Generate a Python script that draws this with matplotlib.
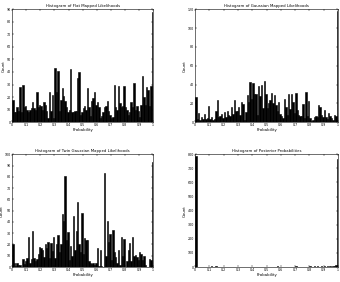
import numpy as np
import matplotlib
matplotlib.use('Agg')
import matplotlib.pyplot as plt

# bar counts per bin (100 bins on [0, 1])
flat_counts = [18, 8, 8, 12, 9, 28, 8, 30, 12, 13,
               10, 8, 10, 11, 16, 11, 10, 24, 12, 14,
               13, 10, 16, 14, 9, 3, 24, 9, 22, 3,
               43, 24, 41, 9, 18, 27, 21, 17, 12, 8,
               10, 42, 8, 8, 9, 9, 35, 40, 6, 8,
               11, 13, 10, 27, 12, 5, 17, 19, 24, 14,
               16, 12, 3, 5, 8, 12, 13, 17, 9, 6,
               3, 4, 30, 12, 10, 29, 15, 12, 13, 29,
               12, 10, 6, 8, 16, 12, 31, 10, 13, 9,
               4, 14, 37, 20, 14, 28, 26, 13, 29, 88]

gauss_counts = [27, 3, 10, 2, 5, 3, 9, 3, 4, 17,
                3, 5, 2, 3, 12, 23, 5, 6, 9, 4,
                11, 5, 12, 8, 7, 16, 9, 24, 12, 12,
                16, 8, 21, 19, 2, 11, 29, 21, 43, 25,
                42, 30, 30, 8, 38, 28, 40, 15, 44, 30,
                15, 20, 23, 31, 20, 29, 18, 12, 21, 9,
                6, 4, 25, 16, 8, 30, 14, 30, 21, 10,
                31, 13, 8, 6, 7, 19, 4, 32, 7, 22,
                4, 1, 2, 5, 7, 5, 18, 16, 8, 5,
                13, 5, 3, 10, 7, 4, 2, 8, 6, 118]

twin_counts = [20, 4, 1, 4, 2, 2, 0, 7, 3, 5,
               8, 27, 4, 7, 32, 8, 5, 7, 12, 18,
               17, 15, 9, 20, 17, 22, 8, 21, 14, 27,
               8, 20, 28, 13, 20, 47, 41, 81, 24, 31,
               6, 19, 10, 45, 15, 32, 58, 20, 13, 48,
               12, 26, 24, 24, 5, 4, 3, 4, 2, 4,
               17, 1, 15, 1, 0, 83, 10, 41, 22, 29,
               6, 33, 13, 9, 4, 15, 2, 27, 10, 25,
               0, 5, 15, 21, 5, 27, 10, 11, 9, 6,
               13, 12, 6, 10, 2, 0, 0, 7, 6, 93]

post_counts = [790, 0, 0, 0, 0, 0, 2, 0, 0, 0,
               0, 4, 0, 0, 5, 0, 3, 0, 0, 0,
               0, 0, 0, 0, 0, 0, 0, 0, 0, 0,
               0, 0, 0, 0, 0, 0, 0, 0, 0, 0,
               0, 0, 0, 0, 0, 0, 0, 0, 0, 0,
               0, 0, 0, 0, 0, 0, 0, 6, 3, 0,
               0, 0, 0, 0, 0, 0, 0, 0, 0, 0,
               4, 0, 0, 0, 0, 0, 0, 0, 3, 0,
               7, 0, 0, 5, 0, 4, 0, 0, 5, 0,
               6, 0, 5, 0, 5, 0, 8, 10, 15, 765]

titles = ['Histogram of Flat Mapped Likelihoods',
          'Histogram of Gaussian Mapped Likelihoods',
          'Histogram of Twin Gaussian Mapped Likelihoods',
          'Histogram of Posterior Probabilities']
ylims = [90, 120, 100, 800]
ysteps = [10, 20, 10, 100]
xticks = [0, 0.1, 0.2, 0.3, 0.4, 0.5, 0.6, 0.7, 0.8, 0.9, 1]
xticklabels = ['0', '0.1', '0.2', '0.3', '0.4', '0.5', '0.6', '0.7', '0.8', '0.9', '1']

fig = plt.figure(figsize=(3.4, 2.82), dpi=100)
positions = [[0.036, 0.567, 0.414, 0.40],
             [0.574, 0.567, 0.42, 0.40],
             [0.036, 0.053, 0.414, 0.40],
             [0.574, 0.053, 0.42, 0.40]]
all_counts = [flat_counts, gauss_counts, twin_counts, post_counts]

edges = np.linspace(0, 1, 101)
for i in range(4):
    ax = fig.add_axes(positions[i])
    ax.bar(edges[:-1], all_counts[i], width=0.01, align='edge',
           color='black', edgecolor='black', linewidth=0.4)
    ax.set_xlim(0, 1)
    ax.set_ylim(0, ylims[i])
    ax.set_xticks(xticks)
    ax.set_xticklabels(xticklabels)
    ax.set_yticks(np.arange(0, ylims[i] + 1, ysteps[i]))
    ax.tick_params(direction='in', top=True, right=True, labelsize=2.3,
                   length=1.2, width=0.3, pad=1)
    for s in ax.spines.values():
        s.set_linewidth(0.4)
    ax.set_title(titles[i], fontsize=2.8, pad=1.5)
    ax.set_xlabel('Probability', fontsize=2.8, labelpad=0.5)
    ax.set_ylabel('Count', fontsize=2.8, labelpad=0.5)

fig.savefig('out.png', dpi=100)
